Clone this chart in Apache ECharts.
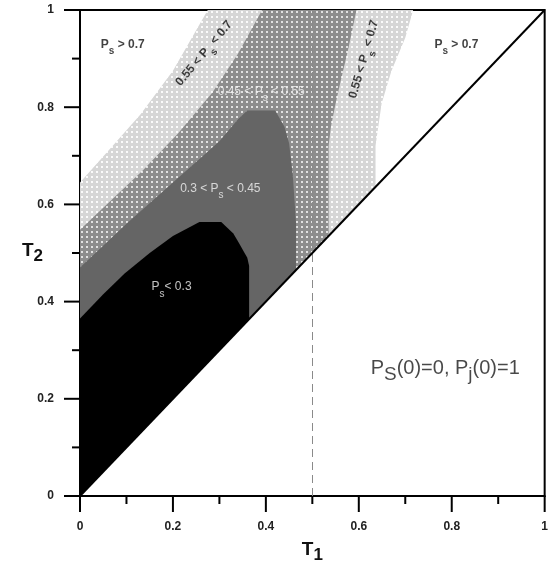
<!DOCTYPE html>
<html><head><meta charset="utf-8">
<script src="https://cdn.jsdelivr.net/npm/echarts@6/dist/echarts.min.js"></script>
<style>html,body{margin:0;padding:0;background:#fff}#c{width:551px;height:569px}</style>
</head><body><div id="c"></div>
<script>
// Region outlines (T1, T2), each closed back to the origin along the diagonal
const regionBelow07 = [[0,0],[0,0.645],[0.07,0.72],[0.13,0.785],[0.2,0.875],[0.275,1],[0.717,1],[0.70,0.943],[0.67,0.874],[0.649,0.807],[0.636,0.72],[0.636,0.636]];
const regionBelow055 = [[0,0],[0,0.548],[0.135,0.67],[0.21,0.745],[0.285,0.83],[0.34,0.91],[0.392,1],[0.595,1],[0.578,0.923],[0.561,0.854],[0.55,0.807],[0.54,0.76],[0.535,0.72],[0.535,0.535]];
const regionBelow045 = [[0,0],[0,0.47],[0.1,0.56],[0.2,0.645],[0.3,0.73],[0.34,0.775],[0.36,0.793],[0.42,0.793],[0.44,0.76],[0.45,0.726],[0.458,0.66],[0.465,0.56],[0.465,0.465]];
const regionBelow03 = [[0,0],[0,0.365],[0.05,0.415],[0.096,0.458],[0.15,0.5],[0.2,0.535],[0.257,0.564],[0.304,0.564],[0.33,0.54],[0.343,0.519],[0.36,0.49],[0.364,0.473],[0.364,0.364]];
const diagonalLine = [[0,0],[1,1]];
const dashedT1 = 0.5;
const majorTicks = [0, 0.2, 0.4, 0.6, 0.8, 1];
const minorTicks = [0.1, 0.3, 0.5, 0.7, 0.9];
const annotationText = [
  '{p|P}{s|s}{p| > 0.7}',
  '{p|P}{s|s}{p| > 0.7}',
  '{p|0.55 < P}{s|s}{p| < 0.7}',
  '{p|0.55 < P}{s|s}{p| < 0.7}',
  '{w|0.45 < P}{ws|s}{w| < 0.55}',
  '{w|0.3 < P}{ws|s}{w| < 0.45}',
  '{w|P}{ws|s}{w|< 0.3}',
  '{a|P}{b|S}{a|(0)=0, P}{b|j}{a|(0)=1}'
];
const annotationAt = [[0.092,0.923],[0.81,0.923],[0.272,0.907],[0.617,0.897],[0.39,0.826],[0.302,0.627],[0.197,0.424],[0.786,0.256]];
const annotationRotate = [0,0,50,74,0,0,0,0];

const FONT = "'Liberation Sans', Arial, sans-serif";
function pattern(bg, dot) {
  const c = document.createElement('canvas');
  c.width = 5; c.height = 5;
  const g = c.getContext('2d');
  g.fillStyle = bg; g.fillRect(0, 0, 5, 5);
  g.fillStyle = dot; g.fillRect(1, 1, 2, 2);
  return { image: c, repeat: 'repeat' };
}
function polySeries(points, fill, z) {
  return {
    type: 'custom', coordinateSystem: 'cartesian2d', silent: true, z: z,
    data: points, encode: { x: 0, y: 1 },
    renderItem: function (params, api) {
      if (params.dataIndex !== 0) return null;
      return { type: 'polygon', shape: { points: points.map(function (p) { return api.coord(p); }) }, style: { fill: fill } };
    }
  };
}
function tickSeries(values, len) {
  return {
    type: 'custom', coordinateSystem: 'cartesian2d', silent: true, z: 10, clip: false,
    data: values.map(function (v) { return [v, v]; }), encode: { x: 0, y: 1 },
    renderItem: function (params, api) {
      const v = api.value(0);
      const bx = api.coord([v, 0]);
      const ly = api.coord([0, v]);
      const st = { stroke: '#000', lineWidth: 2 };
      return { type: 'group', children: [
        { type: 'line', shape: { x1: bx[0], y1: bx[1], x2: bx[0], y2: bx[1] + len }, style: st },
        { type: 'line', shape: { x1: ly[0], y1: ly[1], x2: ly[0] - len, y2: ly[1] }, style: st }
      ] };
    }
  };
}
const rich = {
  p: { fontSize: 12, fontWeight: 'bold', color: '#111', fontFamily: FONT, lineHeight: 13, verticalAlign: 'top' },
  s: { fontSize: 10, fontWeight: 'bold', color: '#111', fontFamily: FONT, lineHeight: 18, verticalAlign: 'bottom' },
  w: { fontSize: 12, color: '#f2f2f2', fontFamily: FONT, lineHeight: 13, verticalAlign: 'top' },
  ws: { fontSize: 10, color: '#f2f2f2', fontFamily: FONT, lineHeight: 18, verticalAlign: 'bottom' },
  a: { fontSize: 20, color: '#1a1a1a', fontFamily: FONT, lineHeight: 21, verticalAlign: 'top' },
  b: { fontSize: 19, color: '#1a1a1a', fontFamily: FONT, lineHeight: 26, verticalAlign: 'bottom' }
};
const nameRich = {
  t: { fontSize: 19, fontWeight: 'bold', color: '#111', fontFamily: FONT, lineHeight: 19, verticalAlign: 'top' },
  n: { fontSize: 17, fontWeight: 'bold', color: '#111', fontFamily: FONT, lineHeight: 24, verticalAlign: 'bottom' }
};
const chart = echarts.init(document.getElementById('c'), null, { renderer: 'canvas' });
function mainAxis(extra) {
  return Object.assign({
    type: 'value', min: 0, max: 1, interval: 0.2,
    axisLine: { show: true, onZero: false, lineStyle: { color: '#000', width: 2 } },
    axisTick: { show: false },
    minorTick: { show: false },
    splitLine: { show: false },
    nameLocation: 'middle', nameMoveOverlap: false
  }, extra);
}
chart.setOption({
  animation: false,
  grid: { left: 80, right: 4, top: 10, bottom: 66, show: true, borderColor: '#000', borderWidth: 2, backgroundColor: 'transparent' },
  xAxis: mainAxis({ position: 'bottom', name: '{t|T}{n|1}', nameGap: 44, nameTextStyle: { rich: nameRich },
      axisLabel: { fontFamily: FONT, fontSize: 12, fontWeight: 'bold', color: '#222', margin: 25 } }),
  yAxis: mainAxis({ position: 'left', name: '{t|T}{n|2}', nameGap: 37, nameRotate: 0, nameTextStyle: { align: 'right', rich: nameRich },
      axisLabel: { fontFamily: FONT, fontSize: 12, fontWeight: 'bold', color: '#222', margin: 26 } }),
  series: [
    polySeries(regionBelow07, pattern('#d6d6d6', '#fbfbfb'), 1),
    polySeries(regionBelow055, pattern('#8d8d8d', '#e2e2e2'), 2),
    polySeries(regionBelow045, '#656565', 3),
    polySeries(regionBelow03, '#000000', 4),
    {
      type: 'line', data: diagonalLine, z: 5, silent: true, symbol: 'none',
      lineStyle: { color: '#000', width: 2 },
      markLine: { silent: true, symbol: 'none', label: { show: false },
        lineStyle: { color: '#8a8a8a', type: [8, 5], width: 1 },
        data: [{ xAxis: dashedT1 }] }
    },
    tickSeries(majorTicks, 16),
    tickSeries(minorTicks, 8),
    {
      type: 'scatter', z: 6, silent: true, symbolSize: 0,
      data: annotationAt.map(function (p, i) {
        return { value: p, label: { show: true, position: 'inside', formatter: annotationText[i], rotate: annotationRotate[i], rich: rich } };
      })
    }
  ]
});
</script></body></html>
